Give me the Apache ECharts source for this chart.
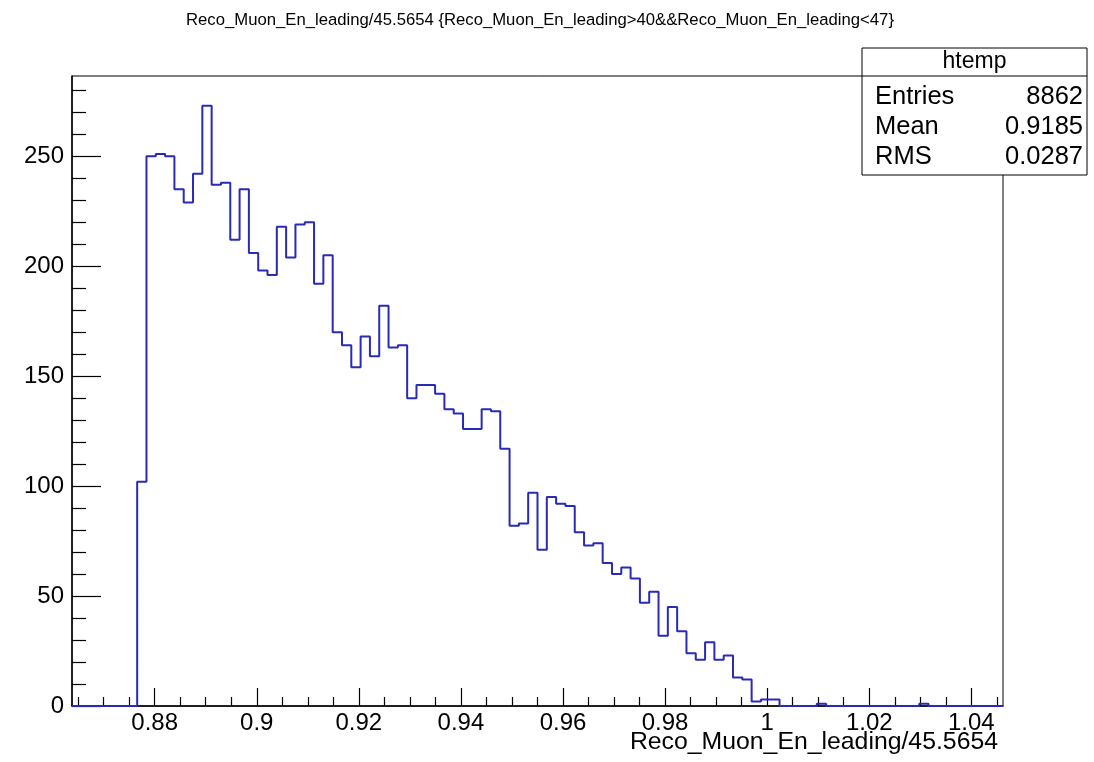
<!DOCTYPE html>
<html>
<head>
<meta charset="utf-8">
<script src="https://cdn.jsdelivr.net/npm/echarts@6/dist/echarts.min.js"></script>
<style>
html,body{margin:0;padding:0;background:#fff;}
#chart{width:1094px;height:762px;}
</style>
</head>
<body>
<div id="chart"></div>
<script>
// ---- data ----
const titleText = 'Reco_Muon_En_leading/45.5654 {Reco_Muon_En_leading>40&&Reco_Muon_En_leading<47}';
const xTitle = 'Reco_Muon_En_leading/45.5654';
const binLow = 0.8638;
const binWidth = 0.001824;
const counts = [
  0, 0, 0, 0, 0, 0, 0, 102, 250, 251,
  250, 235, 229, 242, 273, 237, 238, 212, 235, 206,
  198, 196, 218, 204, 219, 220, 192, 205, 170, 164,
  154, 168, 159, 182, 163, 164, 140, 146, 146, 142,
  135, 133, 126, 126, 135, 134, 117, 82, 83, 97,
  71, 95, 92, 91, 79, 73, 74, 65, 60, 63,
  58, 47, 52, 32, 45, 34, 24, 21, 29, 21,
  23, 13, 12, 2, 3, 3, 0, 0, 0, 0,
  1, 0, 0, 0, 0, 0, 0, 0, 0, 0,
  0, 1, 0, 0, 0, 0, 0, 0, 0, 0
];
const yMax = 286.5;
const xMajorTicks = [0.88, 0.90, 0.92, 0.94, 0.96, 0.98, 1.00, 1.02, 1.04];
const xMinorTicks = [0.865, 0.87, 0.875, 0.885, 0.89, 0.895, 0.905, 0.91, 0.915,
  0.925, 0.93, 0.935, 0.945, 0.95, 0.955, 0.965, 0.97, 0.975, 0.985, 0.99, 0.995,
  1.005, 1.01, 1.015, 1.025, 1.03, 1.035, 1.045];
const yMajorTicks = [0, 50, 100, 150, 200, 250];
const yMinorTicks = [10, 20, 30, 40, 60, 70, 80, 90, 110, 120, 130, 140, 160, 170, 180, 190,
  210, 220, 230, 240, 260, 270, 280];
const statNames = ['Entries', 'Mean', 'RMS'];
const statValues = ['8862', '0.9185', '0.0287'];
const statTitle = 'htemp';

// ---- build ----
const xMin = binLow;
const xMax = binLow + counts.length * binWidth;
const stepData = counts.map((c, i) => [binLow + i * binWidth, c]);
stepData.push([xMax, counts[counts.length - 1]]);

const FONT = 'Liberation Sans, Arial, Helvetica, sans-serif';
const chart = echarts.init(document.getElementById('chart'), null, {renderer: 'canvas'});

const boxL = 862, boxT = 48, boxR = 1087, boxB = 175, headB = 76;
const graphics = [
  {type: 'text', x: 540, y: 20, style: {text: titleText, font: '16.7px ' + FONT, fill: '#000', align: 'center', verticalAlign: 'middle'}, z: 10},
  {type: 'text', x: 998, y: 742, style: {text: xTitle, font: '24.8px ' + FONT, fill: '#000', align: 'right', verticalAlign: 'middle'}, z: 10},
  {type: 'rect', shape: {x: boxL, y: boxT, width: boxR - boxL, height: boxB - boxT}, style: {fill: '#fff', stroke: '#000', lineWidth: 1}, z: 20},
  {type: 'line', shape: {x1: boxL, y1: headB, x2: boxR, y2: headB}, style: {stroke: '#000', lineWidth: 1}, z: 21},
  {type: 'text', x: (boxL + boxR) / 2, y: 62, style: {text: statTitle, font: '23px ' + FONT, fill: '#000', align: 'center', verticalAlign: 'middle'}, z: 22}
];
const rowY = [97, 127, 157];
statNames.forEach((n, i) => {
  graphics.push({type: 'text', x: 875, y: rowY[i], style: {text: n, font: '25.5px ' + FONT, fill: '#000', align: 'left', verticalAlign: 'middle'}, z: 22});
  graphics.push({type: 'text', x: 1083, y: rowY[i], style: {text: statValues[i], font: '25.5px ' + FONT, fill: '#000', align: 'right', verticalAlign: 'middle'}, z: 22});
});

const option = {
  animation: false,
  backgroundColor: '#fff',
  grid: {left: 72, top: 76, right: 91, bottom: 56, show: true, borderColor: '#000', borderWidth: 1, backgroundColor: 'transparent'},
  xAxis: [
    {
      type: 'value', min: xMin, max: xMax, position: 'bottom',
      axisLine: {show: true, onZero: false, lineStyle: {color: '#000', width: 1.5}},
      axisTick: {show: true, inside: true, length: 18, customValues: xMajorTicks, lineStyle: {color: '#000', width: 1.2}},
      axisLabel: {show: true, customValues: xMajorTicks, margin: 5, fontSize: 24, fontFamily: FONT, color: '#000'},
      splitLine: {show: false}
    },
    {
      type: 'value', min: xMin, max: xMax, position: 'bottom',
      axisLine: {show: false, onZero: false},
      axisTick: {show: true, inside: true, length: 9, customValues: xMinorTicks, lineStyle: {color: '#000', width: 1.2}},
      axisLabel: {show: false},
      splitLine: {show: false}
    }
  ],
  yAxis: [
    {
      type: 'value', min: 0, max: yMax, position: 'left',
      axisLine: {show: true, onZero: false, lineStyle: {color: '#000', width: 1.5}},
      axisTick: {show: true, inside: true, length: 29, customValues: yMajorTicks, lineStyle: {color: '#000', width: 1.2}},
      axisLabel: {show: true, customValues: yMajorTicks, margin: 8, fontSize: 24, fontFamily: FONT, color: '#000'},
      splitLine: {show: false}
    },
    {
      type: 'value', min: 0, max: yMax, position: 'left',
      axisLine: {show: false, onZero: false},
      axisTick: {show: true, inside: true, length: 14, customValues: yMinorTicks, lineStyle: {color: '#000', width: 1.2}},
      axisLabel: {show: false},
      splitLine: {show: false}
    }
  ],
  series: [{
    type: 'line', step: 'end', data: stepData, xAxisIndex: 0, yAxisIndex: 0,
    showSymbol: false, symbol: 'none',
    lineStyle: {color: '#2a2ab8', width: 2}, z: 5
  }],
  graphic: graphics
};
chart.setOption(option);
</script>
</body>
</html>
